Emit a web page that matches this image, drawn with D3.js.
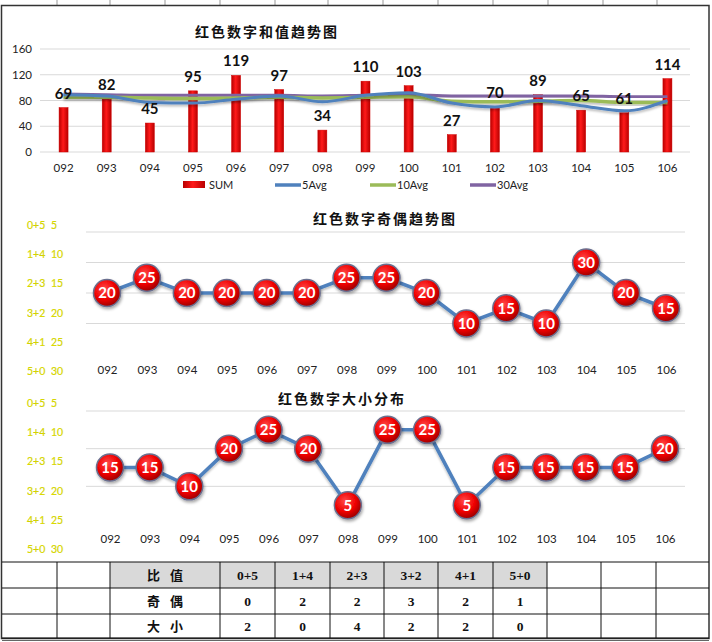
<!DOCTYPE html>
<html>
<head>
<meta charset="utf-8">
<script src="https://cdn.jsdelivr.net/npm/d3@7"></script>
<style>
  body { margin: 0; background: #fff; }
  svg { display: block; }
  .axis text { font-family: Lato, "Liberation Sans", sans-serif; font-size: 11.5px; fill: #222; }
  .title { font-family: "Noto Sans CJK SC", sans-serif; font-weight: bold; font-size: 14px; letter-spacing: 2px; fill: #111; }
  .ylab { font-family: Lato, "Liberation Sans", sans-serif; font-size: 10.5px; fill: #dcdc00; stroke: #c8c800; stroke-width: 0.2px; }
  .tbl { font-weight: bold; fill: #111; }
</style>
</head>
<body>
<svg id="chart" width="712" height="642"></svg>
<script>
const periods = ["092","093","094","095","096","097","098","099","100","101","102","103","104","105","106"];
const sumVals = [69, 82, 45, 95, 119, 97, 34, 110, 103, 27, 70, 89, 65, 61, 114];
const avg5  = [89, 87, 77, 76, 82, 87, 78, 88, 92, 76, 70, 80, 72, 64, 80];
const avg10 = [85, 85, 84, 83, 84, 85, 84, 85, 86, 79, 78, 79, 80, 77, 77];
const avg30 = [90, 89, 88, 88, 88, 88, 87, 88, 89, 87, 87, 87, 87, 86, 86];
const sumTicks = [0, 40, 80, 120, 160];

const oddEven = [20, 25, 20, 20, 20, 20, 25, 25, 20, 10, 15, 10, 30, 20, 15];
const bigSmall = [15, 15, 10, 20, 25, 20, 5, 25, 25, 5, 15, 15, 15, 15, 20];
const ratioNames = ["0+5", "1+4", "2+3", "3+2", "4+1", "5+0"];
const ratioVals = [5, 10, 15, 20, 25, 30];

const tableHead = ["比值", "0+5", "1+4", "2+3", "3+2", "4+1", "5+0"];
const tableOdd  = ["奇偶", "0", "2", "2", "3", "2", "1"];
const tableBig  = ["大小", "2", "0", "4", "2", "2", "0"];

const svg = d3.select("#chart");
const defs = svg.append("defs");

// bar gradient
const bg = defs.append("linearGradient").attr("id", "barGrad").attr("x1", 0).attr("x2", 1).attr("y1", 0).attr("y2", 0);
bg.append("stop").attr("offset", "0%").attr("stop-color", "#b80000");
bg.append("stop").attr("offset", "45%").attr("stop-color", "#ff1a1a");
bg.append("stop").attr("offset", "100%").attr("stop-color", "#b80000");

// ball gradient
const rg = defs.append("radialGradient").attr("id", "ballGrad").attr("cx", "40%").attr("cy", "35%").attr("r", "65%");
rg.append("stop").attr("offset", "0%").attr("stop-color", "#ff4a4a");
rg.append("stop").attr("offset", "60%").attr("stop-color", "#f00000");
rg.append("stop").attr("offset", "100%").attr("stop-color", "#a00000");

const sh = defs.append("filter").attr("id", "shadow").attr("x", "-50%").attr("y", "-50%").attr("width", "200%").attr("height", "200%");
sh.append("feDropShadow").attr("dx", 1).attr("dy", 2).attr("stdDeviation", 1.5).attr("flood-color", "#000").attr("flood-opacity", 0.35);

const lsh = defs.append("filter").attr("id", "lshadow").attr("x", "-10%").attr("y", "-50%").attr("width", "120%").attr("height", "200%");
lsh.append("feDropShadow").attr("dx", 0).attr("dy", 2).attr("stdDeviation", 1).attr("flood-color", "#000").attr("flood-opacity", 0.25);

// ---- frame ----
const topCols = [57, 110, 165, 220, 275, 328, 383, 438, 493, 548, 603, 657];
svg.append("g").selectAll("line").data(topCols).enter().append("line")
  .attr("x1", d => d).attr("x2", d => d).attr("y1", 0).attr("y2", 5)
  .attr("stroke", "#999").attr("stroke-width", 1);
svg.append("rect").attr("x", 1.5).attr("y", 5.5).attr("width", 707.5).attr("height", 633)
  .attr("fill", "none").attr("stroke", "#333").attr("stroke-width", 1.5);

// ---- chart 1: sums ----
const x1 = d3.scaleBand().domain(periods).range([42, 689]);
const y1 = d3.scaleLinear().domain([0, 160]).range([152, 49]);

svg.append("text").attr("class", "title").attr("x", 267).attr("y", 37).attr("text-anchor", "middle").text("红色数字和值趋势图");

svg.append("g").selectAll("line").data(sumTicks).enter().append("line")
  .attr("x1", 40).attr("x2", 690).attr("y1", d => y1(d)).attr("y2", d => y1(d))
  .attr("stroke", "#d9d9d9").attr("stroke-width", 1);

const yAx1 = svg.append("g").attr("class", "axis").attr("transform", "translate(34,0)")
  .call(d3.axisLeft(y1).tickValues(sumTicks).tickSize(0).tickPadding(2));
yAx1.select(".domain").remove();

const xAx1 = svg.append("g").attr("class", "axis").attr("transform", "translate(0,161)")
  .call(d3.axisBottom(x1).tickSize(0).tickPadding(3));
xAx1.select(".domain").remove();

svg.append("g").selectAll("rect").data(sumVals).enter().append("rect")
  .attr("x", (d, i) => x1(periods[i]) + x1.bandwidth() / 2 - 4.5)
  .attr("width", 9)
  .attr("y", d => y1(d)).attr("height", d => y1(0) - y1(d))
  .attr("fill", "url(#barGrad)").attr("stroke", "#d00000").attr("stroke-width", 0.5);

const cx1 = (d, i) => x1(periods[i]) + x1.bandwidth() / 2;
const avgLines = [
  { vals: avg30, color: "#8064a2", w: 3 },
  { vals: avg10, color: "#9bbb59", w: 3.5 },
  { vals: avg5,  color: "#4f81bd", w: 3 }
];
const line1 = d3.line().x(cx1).y(d => y1(d)).curve(d3.curveMonotoneX);
avgLines.forEach(s => {
  svg.append("path").datum(s.vals).attr("d", line1)
    .attr("fill", "none").attr("stroke", s.color).attr("stroke-width", s.w)
    .attr("filter", "url(#lshadow)");
});

svg.append("g").selectAll("text").data(sumVals).enter().append("text")
  .attr("x", cx1).attr("y", d => y1(d) - 9)
  .attr("text-anchor", "middle")
  .attr("font-family", "Lato, 'Liberation Sans', sans-serif").attr("font-weight", "bold").attr("font-size", 15)
  .attr("fill", "#111").text(d => d);

// legend
const legend = svg.append("g").attr("font-family", "Lato, 'Liberation Sans', sans-serif").attr("font-size", 11).attr("fill", "#222");
legend.append("rect").attr("x", 183).attr("y", 181).attr("width", 22).attr("height", 7).attr("fill", "url(#barGrad)");
legend.append("text").attr("x", 209).attr("y", 189).text("SUM");
[["5Avg", "#4f81bd", 275], ["10Avg", "#9bbb59", 370], ["30Avg", "#8064a2", 470]].forEach(l => {
  legend.append("line").attr("x1", l[2]).attr("x2", l[2] + 26).attr("y1", 185).attr("y2", 185)
    .attr("stroke", l[1]).attr("stroke-width", 3.5);
  legend.append("text").attr("x", l[2] + 27).attr("y", 189).text(l[0]);
});

// ---- ball charts ----
function ballChart(vals, xr, yr, maxV, title, titleX, titleY, labelY0, xLabY) {
  const x = d3.scalePoint().domain(periods).range(xr);
  const y = d3.scaleLinear().domain([0, maxV]).range(yr);
  const g = svg.append("g");

  g.append("text").attr("class", "title").attr("x", titleX).attr("y", titleY).attr("text-anchor", "middle").text(title);

  g.append("g").selectAll("line").data(d3.range(10, maxV + 1, 10)).enter().append("line")
    .attr("x1", 86).attr("x2", 685).attr("y1", d => y(d)).attr("y2", d => y(d))
    .attr("stroke", "#d9d9d9").attr("stroke-width", 1);

  const lab = g.append("g").selectAll("g").data(ratioNames).enter().append("g")
    .attr("transform", (d, i) => `translate(0,${labelY0 + i * 29.2})`);
  lab.append("text").attr("class", "ylab").attr("x", 27).text(d => d);
  lab.append("text").attr("class", "ylab").attr("x", 51).text((d, i) => ratioVals[i]);

  const xa = g.append("g").attr("class", "axis").attr("transform", `translate(0,${xLabY})`)
    .call(d3.axisBottom(x).tickSize(0).tickPadding(0));
  xa.select(".domain").remove();

  const ln = d3.line().x((d, i) => x(periods[i])).y(d => y(d));
  g.append("path").datum(vals).attr("d", ln).attr("fill", "none")
    .attr("stroke", "#4f81bd").attr("stroke-width", 3.5).attr("filter", "url(#lshadow)");

  const b = g.append("g").selectAll("g").data(vals).enter().append("g")
    .attr("transform", (d, i) => `translate(${x(periods[i])},${y(d)})`);
  b.append("circle").attr("r", 13.5).attr("fill", "url(#ballGrad)")
    .attr("stroke", "#6a6f8f").attr("stroke-width", 1.5).attr("filter", "url(#shadow)");
  b.append("text").attr("text-anchor", "middle").attr("dy", "0.36em")
    .attr("font-family", "Lato, 'Liberation Sans', sans-serif").attr("font-weight", "bold").attr("font-size", 15)
    .attr("fill", "#fff").text(d => d);
}

ballChart(oddEven, [107, 666], [354, 232], 40, "红色数字奇偶趋势图", 385, 224, 229, 366);
ballChart(bigSmall, [110, 665], [524, 411], 30, "红色数字大小分布", 342, 404, 407, 535);

// ---- table ----
const colX = [2, 57, 110, 220, 275, 330, 384, 438, 493, 547, 601, 656, 709];
const rowY = [562, 588, 614, 638];
const tg = svg.append("g");
tg.append("rect").attr("x", colX[2]).attr("y", rowY[0]).attr("width", colX[9] - colX[2]).attr("height", rowY[1] - rowY[0])
  .attr("fill", "#d9d9d9");
tg.selectAll("line.h").data(rowY).enter().append("line")
  .attr("x1", colX[0]).attr("x2", colX[12]).attr("y1", d => d).attr("y2", d => d)
  .attr("stroke", "#111").attr("stroke-width", 1);
tg.selectAll("line.v").data(colX.slice(1, 12)).enter().append("line")
  .attr("x1", d => d).attr("x2", d => d).attr("y1", rowY[0]).attr("y2", rowY[3])
  .attr("stroke", "#111").attr("stroke-width", 1);
svg.append("line").attr("x1", 2).attr("x2", 709).attr("y1", 640.5).attr("y2", 640.5).attr("stroke", "#666").attr("stroke-width", 1);

[tableHead, tableOdd, tableBig].forEach((row, r) => {
  tg.append("g").selectAll("text").data(row).enter().append("text")
    .attr("class", "tbl")
    .attr("x", (d, i) => (colX[i + 2] + colX[i + 3]) / 2 + (i === 0 ? 5 : 0))
    .attr("y", (rowY[r] + rowY[r + 1]) / 2 + 5)
    .attr("text-anchor", "middle")
    .attr("font-family", (d, i) => i === 0 ? "'Noto Sans CJK SC', sans-serif" : "'Liberation Serif', serif")
    .attr("font-size", (d, i) => i === 0 ? 13 : 13.5)
    .attr("letter-spacing", (d, i) => i === 0 ? 10 : 0)
    .text(d => d);
});
</script>
</body>
</html>
